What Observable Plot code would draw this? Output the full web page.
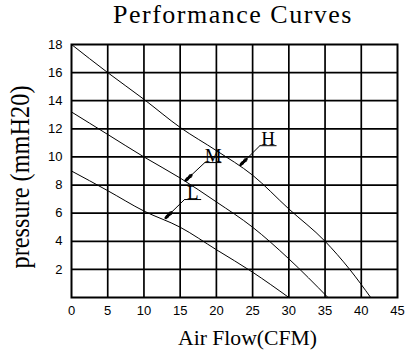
<!DOCTYPE html>
<html><head><meta charset="utf-8">
<script src="https://cdn.jsdelivr.net/npm/d3@7"></script>
<script src="https://cdn.jsdelivr.net/npm/@observablehq/plot@0.6"></script>
<style>
body{margin:0;background:#fff;}
#title{position:relative;height:34px;width:413px;font-family:"Liberation Serif",serif;font-size:26px;}
#title span{position:absolute;left:113px;top:2px;line-height:26px;letter-spacing:1.5px;white-space:nowrap;color:#000;}
</style></head><body>
<div id="title"><span>Performance Curves</span></div>
<div id="chart"></div>
<script>
// Tick values
const xTicks = [0, 5, 10, 15, 20, 25, 30, 35, 40, 45];
const yTicks = [2, 4, 6, 8, 10, 12, 14, 16, 18];

// Series (Air Flow CFM vs pressure mmH2O)
const seriesNames = ["H", "M", "L"];
const flowH = [0, 5, 10, 15, 20, 25, 30, 35, 38.4, 41.3];
const pressureH = [18, 16, 14.1, 12.1, 10.45, 8.7, 6.3, 4.0, 2, 0];
const flowM = [0, 5, 10, 15, 20, 25, 30, 35.4];
const pressureM = [13.2, 11.6, 10, 8.5, 6.8, 5.0, 2.75, 0];
const flowL = [0, 5, 10, 15, 20, 25, 30];
const pressureL = [9.0, 7.6, 6.15, 5.0, 3.4, 1.8, 0];

// Callout labels: underline span (x1..x2 at y) and arrow tip, in data units
const labelX1 = [26.0, 18.4, 15.6];
const labelX2 = [28.3, 20.7, 17.9];
const labelY = [10.8, 9.6, 6.97];
const tipX = [23.35, 15.75, 13.0];
const tipY = [9.44, 8.32, 5.66];

const xLabel = "Air Flow(CFM)";
const yLabel = "pressure (mmH20)";

const flows = [flowH, flowM, flowL];
const pressures = [pressureH, pressureM, pressureL];
const rows = seriesNames.flatMap((s, i) => flows[i].map((f, j) => ({series: s, flow: f, pressure: pressures[i][j]})));
const notes = seriesNames.map((s, i) => ({name: s, ux1: labelX1[i], ux2: labelX2[i], uy: labelY[i], tx: tipX[i], ty: tipY[i]}));

const serif = "Liberation Serif, Times New Roman, serif";

const chart = Plot.plot({
  width: 413, height: 317,
  marginTop: 10, marginBottom: 54, marginLeft: 71, marginRight: 16,
  style: {fontFamily: "Liberation Sans, Arial, sans-serif", fontSize: "13px", color: "#000", background: "#fff", overflow: "visible"},
  x: {domain: [0, 45], ticks: xTicks, tickSize: 0, tickPadding: 8, label: null},
  y: {domain: [0, 18], ticks: yTicks, tickSize: 0, tickPadding: 9, label: null},
  marks: [
    Plot.ruleX(xTicks.filter(v => v > 0 && v < 45), {stroke: "#000", strokeWidth: 1.7}),
    Plot.ruleY(yTicks.filter(v => v < 18), {stroke: "#000", strokeWidth: 1.7}),
    Plot.frame({stroke: "#000", strokeWidth: 2}),
    Plot.line(rows, {x: "flow", y: "pressure", z: "series", stroke: "#000", strokeWidth: 1, curve: "monotone-x"}),
    Plot.link(notes, {x1: "ux1", x2: "ux2", y1: "uy", y2: "uy", stroke: "#000", strokeWidth: 1}),
    Plot.arrow(notes, {x1: "ux1", y1: "uy", x2: "tx", y2: "ty", stroke: "#000", strokeWidth: 1, headLength: 11, headAngle: 24}),
    Plot.arrow(notes, {x1: d => d.tx + (d.ux1 - d.tx) * 0.3, y1: d => d.ty + (d.uy - d.ty) * 0.3, x2: "tx", y2: "ty", stroke: "#000", strokeWidth: 2.6, headLength: 10, headAngle: 18}),
    Plot.text(notes, {x: d => (d.ux1 + d.ux2) / 2, y: "uy", text: "name", lineAnchor: "bottom", dy: -1, fontSize: 19, fontFamily: serif, fill: "#000"}),
    Plot.text([xLabel], {frameAnchor: "bottom", textAnchor: "middle", dx: 13, dy: 40, lineAnchor: "middle", fontSize: 22, fontFamily: serif, fill: "#000"}),
    Plot.text([yLabel], {frameAnchor: "left", textAnchor: "middle", dx: -51, dy: 6, rotate: -90, lineAnchor: "middle", fontSize: 27, fontFamily: serif, fill: "#000"})
  ]
});
document.getElementById("chart").appendChild(chart);
chart.querySelectorAll("text").forEach(t => {
  if (t.textContent === yLabel) { t.setAttribute("textLength", 183); t.setAttribute("lengthAdjust", "spacingAndGlyphs"); }
  if (t.textContent === xLabel) { t.setAttribute("textLength", 139); t.setAttribute("lengthAdjust", "spacingAndGlyphs"); }
});
</script></body></html>
